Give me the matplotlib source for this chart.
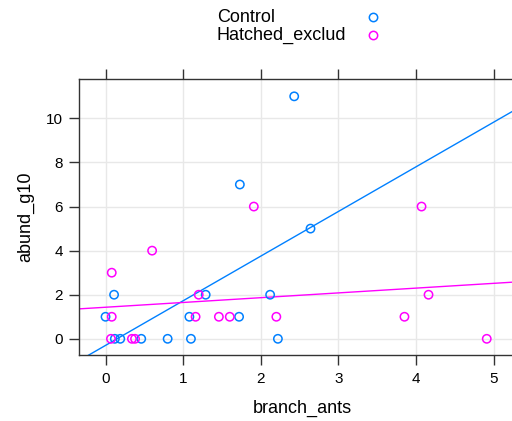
import matplotlib
matplotlib.use("Agg")
import matplotlib.pyplot as plt
import numpy as np

plt.rcParams['font.family'] = ['Liberation Sans', 'DejaVu Sans']

groups = ['Control', 'Hatched_exclud']
colors = ['#0080ff', '#ff00ff']

control_x = [0.00, 0.11, 0.12, 0.19, 0.46, 0.80, 1.08, 1.10, 1.29, 1.72,
             1.73, 2.12, 2.22, 2.43, 2.64]
control_y = [1, 2, 0, 0, 0, 0, 1, 0, 2, 1, 7, 2, 0, 11, 5]

hatched_x = [0.08, 0.08, 0.07, 0.34, 0.38, 0.60, 1.16, 1.20, 1.46,
             1.60, 1.91, 2.20, 3.85, 4.07, 4.16, 4.91]
hatched_y = [3, 1, 0, 0, 0, 4, 1, 2, 1, 1, 6, 1, 1, 6, 2, 0]

xticks = [0, 1, 2, 3, 4, 5]
yticks = [0, 2, 4, 6, 8, 10]

fig = plt.figure(figsize=(5.12, 4.21), dpi=100)
ax = fig.add_axes([0.155, 0.157, 0.87, 0.655])
xlim = (-0.337, 5.40)
ax.set_xlim(*xlim)
ax.set_ylim(-0.73, 11.78)

ax.grid(True, color='#e8e8e8', lw=1)
ax.set_axisbelow(True)

series = [(control_x, control_y), (hatched_x, hatched_y)]
for (xs, ys), col in zip(series, colors):
    xs = np.array(xs)
    ys = np.array(ys)
    ax.scatter(xs, ys, s=36, facecolors='none', edgecolors=col, linewidths=1.1, zorder=3)
    # least-squares line per group
    b, a = np.polyfit(xs, ys, 1)
    xl = np.array(xlim)
    ax.plot(xl, a + b * xl, color=col, lw=1, zorder=2)

ax.set_xticks(xticks)
ax.set_yticks(yticks)
ax.tick_params(axis='x', direction='out', length=7, width=1, top=True,
               labelsize=11, pad=5, colors='#333333', labelcolor='black')
ax.tick_params(axis='y', direction='out', length=7, width=1,
               labelsize=11, pad=5, colors='#333333', labelcolor='black')
for sp in ax.spines.values():
    sp.set_color('#333333')
    sp.set_linewidth(1)

ax.set_xlabel('branch_ants', fontsize=13, labelpad=10)
ax.set_ylabel('abund_g10', fontsize=13, labelpad=8)

# key above the panel
for i, (name, col) in enumerate(zip(groups, colors)):
    yk = 1 - (17 + 18 * i) / 421
    fig.text(217 / 512, yk, name, fontsize=13, ha='left', va='center')
    fig.lines.append(plt.Line2D([373 / 512], [yk], transform=fig.transFigure,
                                marker='o', ms=6, mfc='none', mec=col, mew=1.1,
                                linestyle='none'))

fig.savefig('out.png', dpi=100)
